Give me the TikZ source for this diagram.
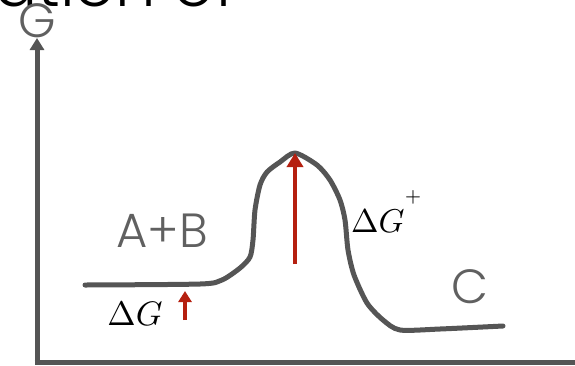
\documentclass[tikz,border=0pt]{standalone}
\usepackage{fontspec}
\setmainfont{Poppins}[UprightFont={* Light}]
\usetikzlibrary{arrows.meta}
\definecolor{axgray}{HTML}{555555}
\definecolor{txtgray}{HTML}{606060}
\definecolor{arrred}{HTML}{B52010}
\begin{document}
\begin{tikzpicture}[x=1pt,y=-1pt,
  axis/.style={draw=axgray,line width=5pt,-{Triangle[length=12pt,width=14pt]}},
  curve/.style={draw=axgray,line width=5pt,line join=round,line cap=round},
  redarr/.style={draw=arrred,line width=4.5pt,-{Triangle[length=14pt,width=16pt]}},
  lbl/.style={text=txtgray,font=\fontsize{48}{48}\selectfont},
  mlbl/.style={text=black,inner sep=0}]
\clip (0,0) rectangle (575,365);
\useasboundingbox (0,0) rectangle (575,365);
\node[anchor=base west,inner sep=0,font=\fontsize{64}{64}\selectfont] (title) at (-6,6) {ation of};
\coordinate (o) at (37,362);
\coordinate (ytop) at (37,38);
\coordinate (xend) at (580,362);
\draw[axis] (o) -- (ytop);
\draw[draw=axgray,line width=5pt] (34.5,362) -- (xend);
\node[lbl,anchor=base,inner sep=0] (G) at (37,37) {G};
\draw[curve] plot[smooth,tension=0.45] coordinates {(85,285) (200,284) (222,280) (240,268) (250,257) (253,240) (255,210) (260,185) (267,172) (280,162) (295,153) (317,165) (330,180) (340,200) (345,220) (348,250) (354,275) (367,303) (383,320) (400,330) (440,329) (503,326)};
\coordinate (b1) at (295,264);
\coordinate (t1) at (295,153);
\draw[redarr] (b1) -- (t1);
\coordinate (b2) at (185,320);
\coordinate (t2) at (185,291);
\draw[redarr,-{Triangle[length=11pt,width=13pt]}] (b2) -- (t2);
\node[lbl,anchor=base,inner sep=0] (AB) at (162,247) {A+B};
\node[lbl,anchor=base,inner sep=0] (C) at (470,303) {C};
\node[mlbl] (dG) at (135,314) {\scalebox{3.4}{$\Delta G$}};
\node[mlbl,anchor=south west] (dGt) at (351,233) {\scalebox{3.3}{$\Delta G^{\raisebox{0.6em}{$\scriptscriptstyle +$}}$}};
\end{tikzpicture}
\end{document}
